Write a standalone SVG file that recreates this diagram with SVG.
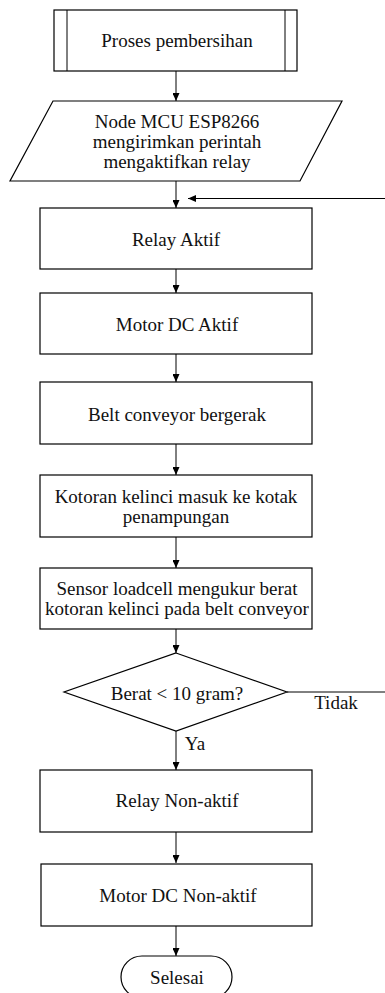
<svg xmlns="http://www.w3.org/2000/svg" width="385" height="993" viewBox="0 0 385 993">
<style>
.box{fill:#fff;stroke:#000;stroke-width:1.2}
.t{font-family:"Liberation Serif","Times New Roman",serif;font-size:19px;fill:#111;text-anchor:middle}
.c{fill:none;stroke:#000;stroke-width:1}
</style>
<defs>
<marker id="ah" markerWidth="8" markerHeight="7" refX="8" refY="3.5" orient="auto" markerUnits="userSpaceOnUse">
<path d="M0,0 L8,3.5 L0,7 z" fill="#000"/>
</marker>
</defs>
<g id="connectors">
<line class="c" x1="176" y1="71" x2="176" y2="101" marker-end="url(#ah)"/>
<line class="c" x1="176" y1="181" x2="176" y2="208" marker-end="url(#ah)"/>
<line class="c" x1="385" y1="198.5" x2="188" y2="198.5" marker-end="url(#ah)"/>
<line class="c" x1="176" y1="269" x2="176" y2="293" marker-end="url(#ah)"/>
<line class="c" x1="176" y1="354" x2="176" y2="382" marker-end="url(#ah)"/>
<line class="c" x1="176" y1="444" x2="176" y2="475" marker-end="url(#ah)"/>
<line class="c" x1="176" y1="537" x2="176" y2="568" marker-end="url(#ah)"/>
<line class="c" x1="176" y1="629" x2="176" y2="653" marker-end="url(#ah)"/>
<line class="c" x1="287" y1="692" x2="385" y2="692"/>
<line class="c" x1="176" y1="731" x2="176" y2="770" marker-end="url(#ah)"/>
<line class="c" x1="176" y1="832" x2="176" y2="863" marker-end="url(#ah)"/>
<line class="c" x1="176" y1="926" x2="176" y2="956" marker-end="url(#ah)"/>
<text class="t" x="336" y="709">Tidak</text>
<text class="t" x="195" y="750">Ya</text>
</g>
<g id="proses">
<rect class="box" x="54" y="10" width="243" height="61"/>
<line class="c" x1="67" y1="10" x2="67" y2="71"/>
<line class="c" x1="285" y1="10" x2="285" y2="71"/>
<text class="t" x="177" y="47">Proses pembersihan</text>
</g>
<g id="nodemcu">
<polygon class="box" points="53,101 342,101 300,181 10,181"/>
<text class="t" x="177" y="128">Node MCU ESP8266</text>
<text class="t" x="177" y="148">mengirimkan perintah</text>
<text class="t" x="177" y="168">mengaktifkan relay</text>
</g>
<g id="relay-aktif">
<rect class="box" x="40" y="208" width="272" height="61"/>
<text class="t" x="176" y="246">Relay Aktif</text>
</g>
<g id="motor-aktif">
<rect class="box" x="40" y="293" width="272" height="61"/>
<text class="t" x="177" y="331">Motor DC Aktif</text>
</g>
<g id="belt">
<rect class="box" x="40" y="382" width="272" height="62"/>
<text class="t" x="177" y="421">Belt conveyor bergerak</text>
</g>
<g id="kotoran">
<rect class="box" x="40" y="475" width="272" height="62"/>
<text class="t" x="176" y="503">Kotoran kelinci masuk ke kotak</text>
<text class="t" x="176" y="523">penampungan</text>
</g>
<g id="sensor">
<rect class="box" x="40" y="568" width="272" height="61"/>
<text class="t" x="177" y="595">Sensor loadcell mengukur berat</text>
<text class="t" x="177" y="615">kotoran kelinci pada belt conveyor</text>
</g>
<g id="decision">
<polygon class="box" points="176,653 287,692 176,731 64,692"/>
<text class="t" x="177" y="700">Berat &lt; 10 gram?</text>
</g>
<g id="relay-non">
<rect class="box" x="40" y="770" width="272" height="62"/>
<text class="t" x="177" y="807">Relay Non-aktif</text>
</g>
<g id="motor-non">
<rect class="box" x="41" y="864" width="271" height="62"/>
<text class="t" x="178" y="902">Motor DC Non-aktif</text>
</g>
<g id="selesai">
<rect class="box" x="121" y="956" width="111" height="42" rx="21" ry="21"/>
<text class="t" x="177" y="984">Selesai</text>
</g>
</svg>
